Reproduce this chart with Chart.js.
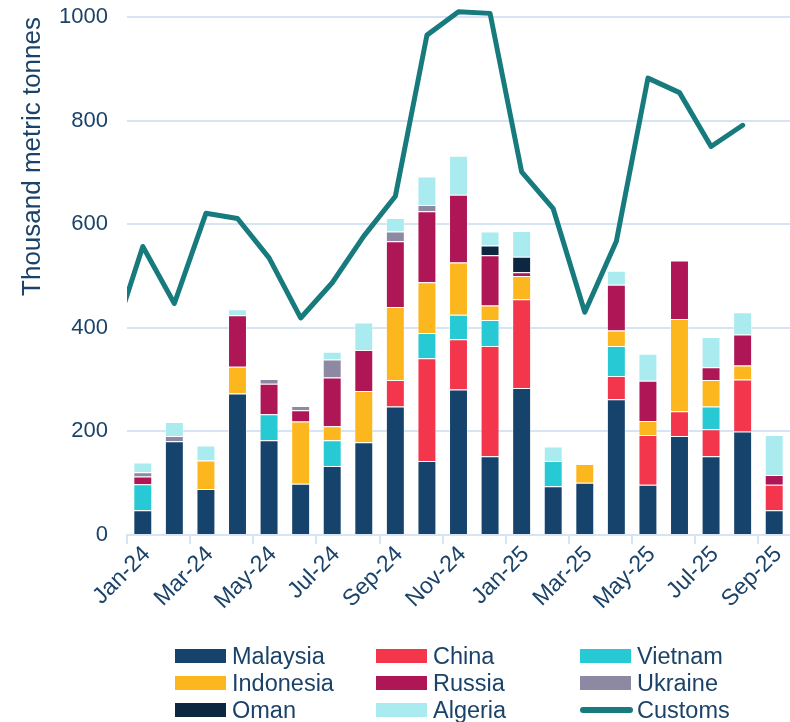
<!DOCTYPE html>
<html><head><meta charset="utf-8">
<script src="https://cdn.jsdelivr.net/npm/chart.js@4.4.1/dist/chart.umd.min.js"></script>
<style>
html,body{margin:0;padding:0;background:#fff;}
#wrap{position:relative;width:790px;height:722px;overflow:hidden;background:#fff;}
#c{position:absolute;left:0;top:0;}
#legend{position:absolute;left:0;top:0;width:790px;height:722px;pointer-events:none;font-family:"Liberation Sans",Arial,sans-serif;font-size:23.5px;color:#1B4369;}
.item{position:absolute;display:flex;align-items:center;height:27px;white-space:nowrap;}
.sw{width:51px;height:14px;margin-right:6px;flex:none;}
.ln{width:53px;height:6px;border-radius:3px;margin-right:4px;flex:none;}
</style></head>
<body><div id="wrap"><canvas id="c" width="790" height="722"></canvas><div id="legend"></div></div>
<script>
// ---- data ----
const months = ['Jan-24','Feb-24','Mar-24','Apr-24','May-24','Jun-24','Jul-24','Aug-24','Sep-24','Oct-24','Nov-24','Dec-24','Jan-25','Feb-25','Mar-25','Apr-25','May-25','Jun-25','Jul-25','Aug-25','Sep-25'];
const malaysia  = [48,181,89,273,183,99,133,179,248,143,281,152,284,94,101,262,97,191,152,200,48];
const china     = [null,null,null,null,null,null,null,null,51,198,97,213,171,null,null,45,96,48,52,100,49];
const vietnam   = [50,null,null,null,50,null,50,null,null,49,47,50,null,49,null,58,null,null,44,null,null];
const indonesia = [null,null,55,52,null,120,27,99,141,98,101,28,45,null,36,30,27,178,51,27,null];
const russia    = [15,null,null,99,59,22,94,79,127,137,131,97,7,null,null,88,78,113,25,60,19];
const ukraine   = [8,10,null,null,9,8,35,null,19,12,null,null,null,null,null,null,null,null,null,null,null];
const oman      = [null,null,null,null,null,null,null,null,null,null,null,19,30,null,null,null,null,null,null,null,null];
const algeria   = [19,27,29,12,null,null,15,53,26,55,75,27,50,28,null,27,52,null,58,43,77];
// Customs line: starts one month before the first bar (Dec-23), partly visible at the left edge
const customsMonths = ['Dec-23','Jan-24','Feb-24','Mar-24','Apr-24','May-24','Jun-24','Jul-24','Aug-24','Sep-24','Oct-24','Nov-24','Dec-24','Jan-25','Feb-25','Mar-25','Apr-25','May-25','Jun-25','Jul-25','Aug-25'];
const customs   = [368,557,447,621,611,535,419,487,577,654,965,1010,1007,701,630,430,567,882,854,750,791];
const yTicks = [0,200,400,600,800,1000];

// ---- styles ----
const FONT = '"Liberation Sans", Arial, sans-serif';
const TEXT = '#1B4369';
const GRID = '#D6E4F4';
const series = [
  ['Malaysia', malaysia, '#15436B'],
  ['China', china, '#F4364D'],
  ['Vietnam', vietnam, '#27CAD4'],
  ['Indonesia', indonesia, '#FDB71E'],
  ['Russia', russia, '#AE1656'],
  ['Ukraine', ukraine, '#8E89A2'],
  ['Oman', oman, '#0D2740'],
  ['Algeria', algeria, '#A9EBEF']
];
const LINE_COLOR = '#177A7D';

const datasets = series.map(([label, data, color]) => ({
  type: 'bar', label, data, backgroundColor: color,
  borderColor: 'rgba(255,255,255,0.45)', borderWidth: 1,
  barPercentage: 0.6, categoryPercentage: 1.0, grouped: false,
  xAxisID: 'x', yAxisID: 'y'
}));
datasets.push({
  type: 'line', label: 'Customs',
  data: customsMonths.map((m, i) => ({x: i - 1, y: customs[i]})),
  borderColor: LINE_COLOR, backgroundColor: LINE_COLOR, borderWidth: 5,
  borderJoinStyle: 'round', borderCapStyle: 'round',
  pointRadius: 0, tension: 0, fill: false, order: -1,
  xAxisID: 'x2', yAxisID: 'y',
  clip: {left: 0, top: 20, right: 0, bottom: 0}
});

new Chart(document.getElementById('c'), {
  data: { labels: months, datasets },
  options: {
    responsive: false, animation: false, devicePixelRatio: 1,
    layout: { padding: { top: 17, right: 0, bottom: 97, left: 0 } },
    plugins: { legend: { display: false }, tooltip: { enabled: false } },
    scales: {
      x: {
        type: 'category', stacked: true, offset: true,
        grid: { offset: true, drawOnChartArea: false, drawTicks: true, tickLength: 9, lineWidth: 2,
                color: ctx => (ctx.index % 2 === 0 ? GRID : 'rgba(0,0,0,0)') },
        border: { display: true, color: GRID, width: 2 },
        ticks: { autoSkip: false, minRotation: 45, maxRotation: 45, padding: -3, labelOffset: 4, color: TEXT,
                 font: { size: 23, family: FONT },
                 callback: (v, i) => (i % 2 === 0 ? months[i] : '') },
        afterFit: s => { s.height = 90; s.paddingLeft = 0; s.paddingRight = 0; }
      },
      x2: { type: 'linear', display: false, min: -0.5, max: months.length - 0.5 },
      y: {
        stacked: true, min: 0, max: 1000,
        afterBuildTicks: s => { s.ticks = yTicks.map(v => ({value: v})); },
        grid: { color: GRID, lineWidth: 2, drawTicks: false },
        border: { display: false },
        ticks: { padding: 19, color: TEXT, font: { size: 22, family: FONT },
                 callback: v => String(v) },
        title: { display: true, text: 'Thousand metric tonnes', color: TEXT, align: 'end',
                 font: { size: 26, family: FONT }, padding: { top: 17, bottom: 0 } },
        afterFit: s => { s.width = 127; s.paddingTop = 0; s.paddingBottom = 0; }
      }
    }
  }
});

// ---- legend (3 columns, real text) ----
const legend = document.getElementById('legend');
const colX = [175, 376, 580];
const rowY = [656, 683, 710];
const legendEntries = series.map(([label, , color]) => ({label, color, line: false}))
  .concat([{label: 'Customs', color: LINE_COLOR, line: true}]);
legendEntries.forEach((e, i) => {
  const d = document.createElement('div');
  d.className = 'item';
  d.style.left = colX[i % 3] + 'px';
  d.style.top = (rowY[Math.floor(i / 3)] - 13.5) + 'px';
  const sw = document.createElement('span');
  sw.className = e.line ? 'ln' : 'sw';
  sw.style.background = e.color;
  const t = document.createElement('span');
  t.textContent = e.label;
  d.appendChild(sw); d.appendChild(t);
  legend.appendChild(d);
});
</script>
</body></html>
